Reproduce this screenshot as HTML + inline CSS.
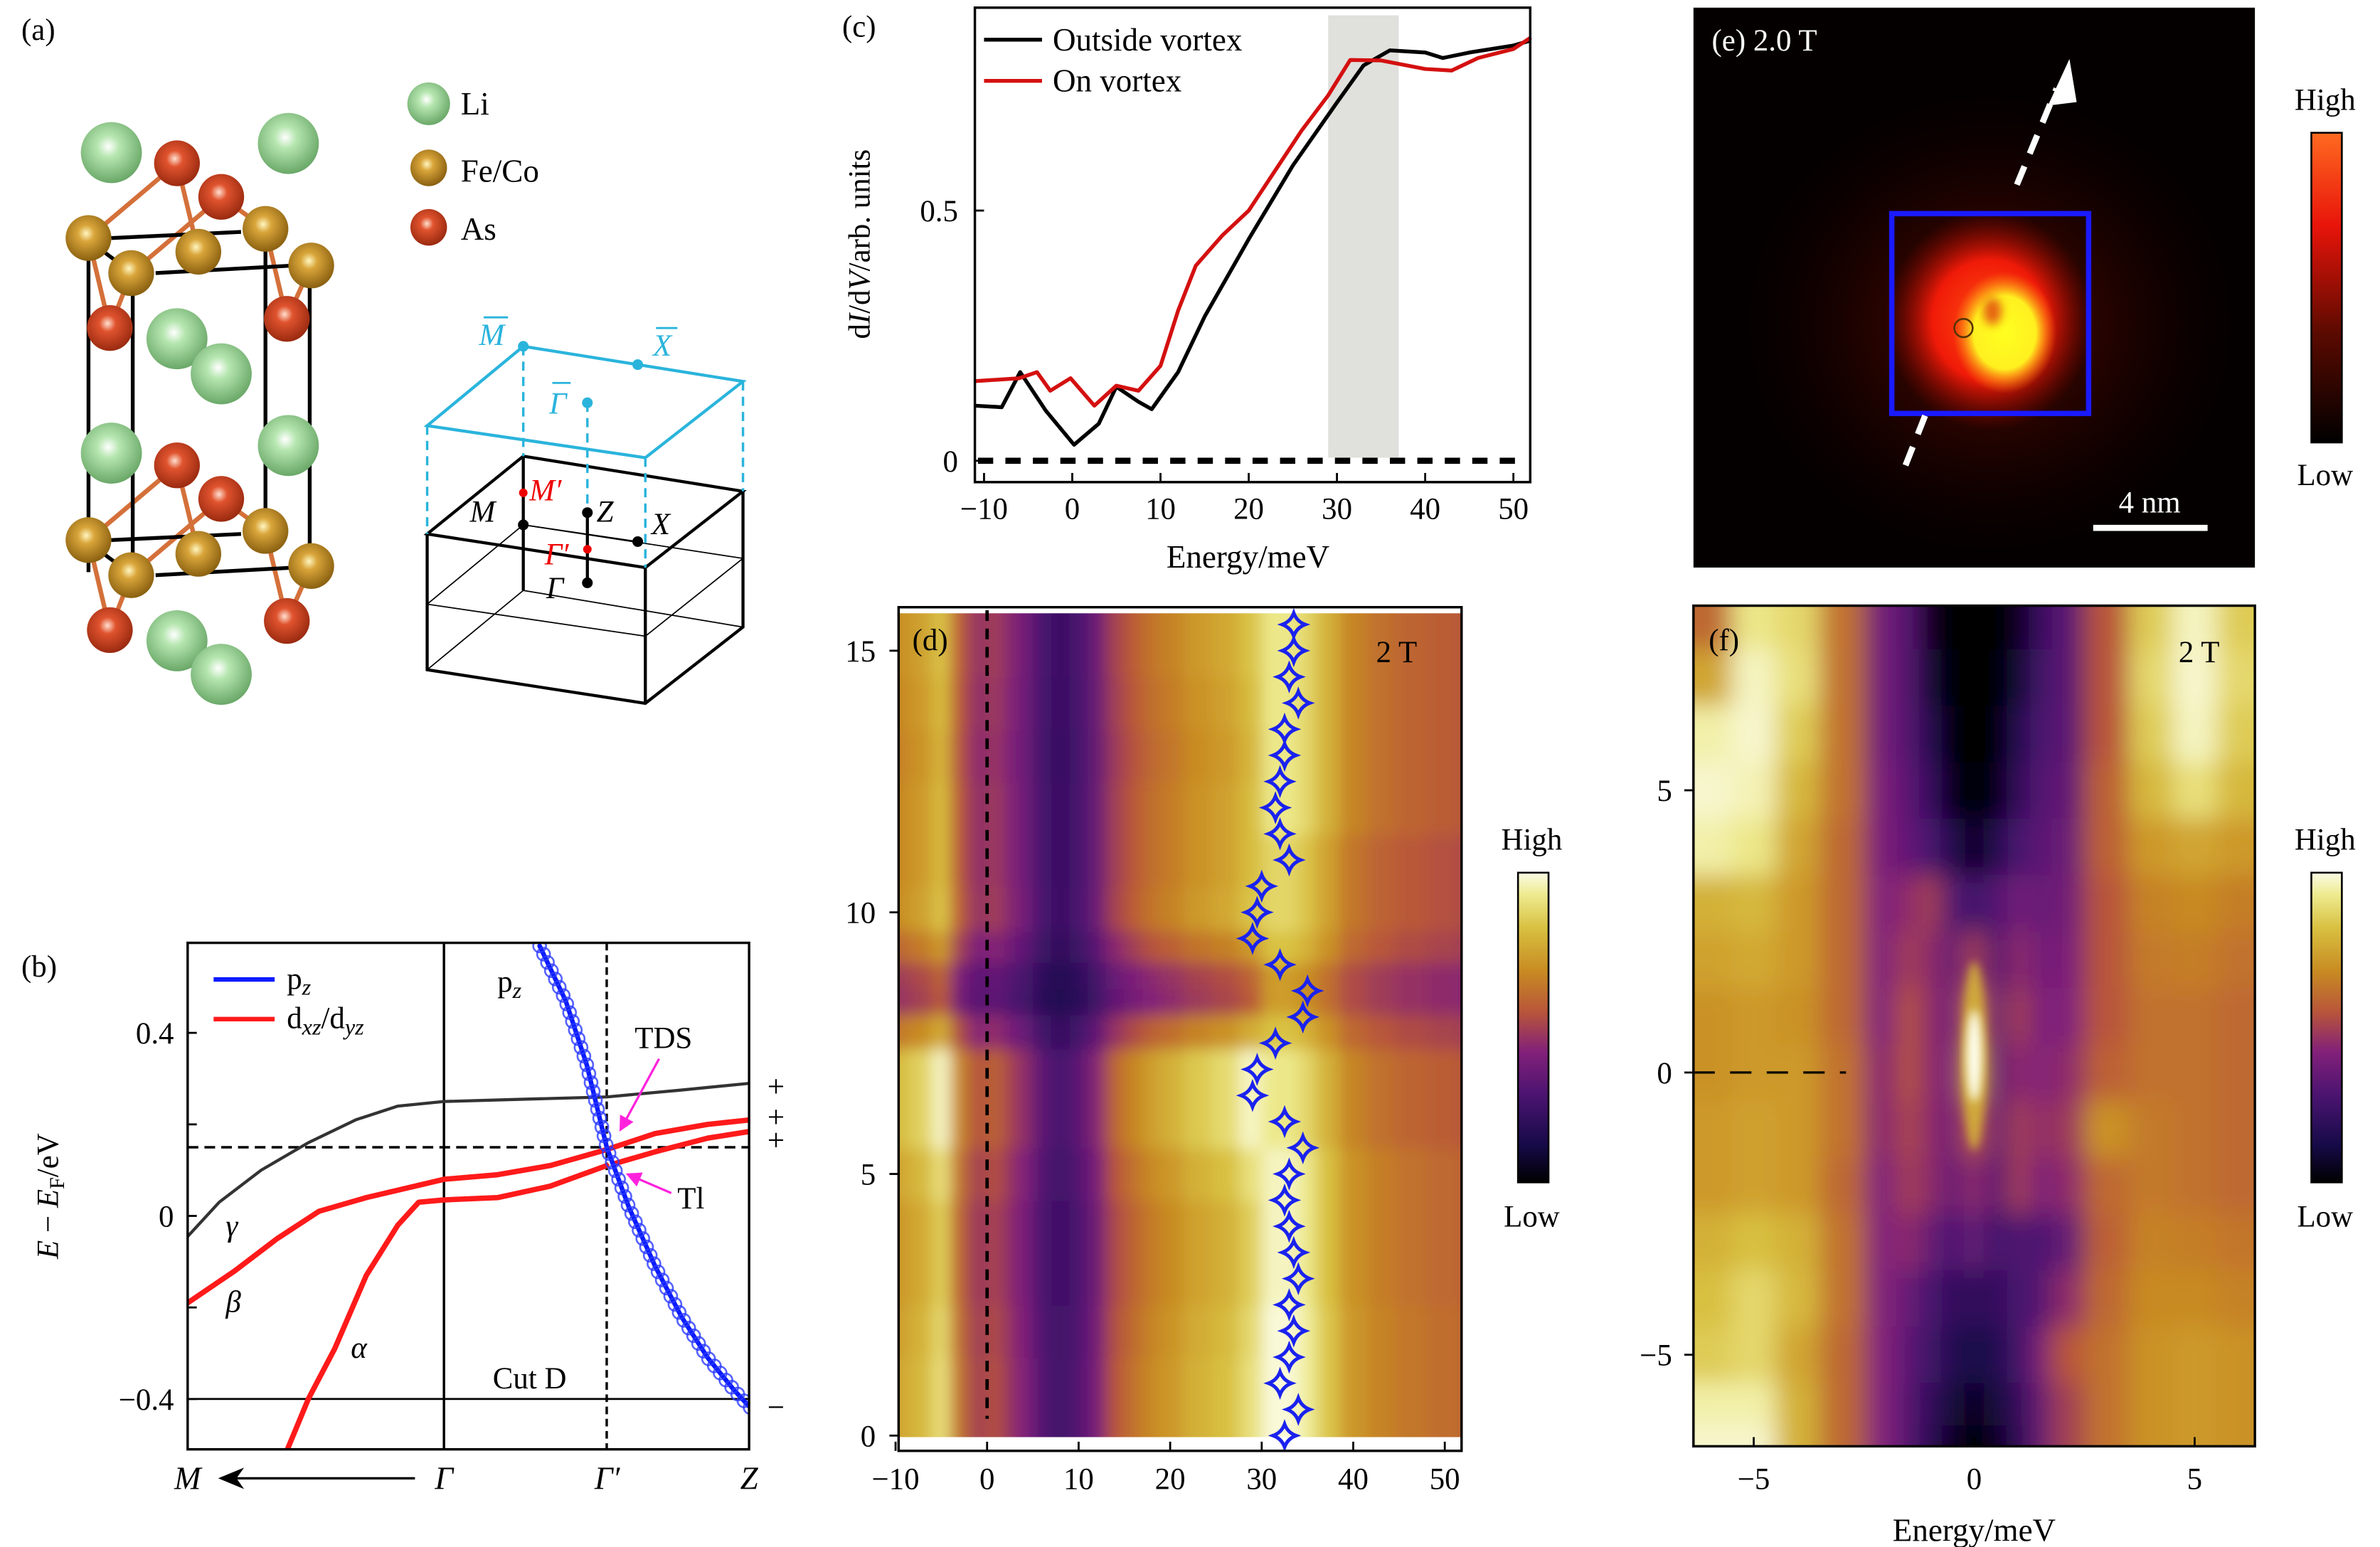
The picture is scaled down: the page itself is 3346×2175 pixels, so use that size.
<!DOCTYPE html>
<html><head><meta charset="utf-8">
<style>
html,body{margin:0;padding:0;background:#fff;}
svg{display:block;font-family:"Liberation Serif",serif;}
</style></head>
<body>
<svg id="fig" xmlns="http://www.w3.org/2000/svg" width="3346" height="2175" viewBox="0 0 1560 1014">
<defs>
  <radialGradient id="gLi" cx="0.45" cy="0.4" r="0.6"><stop offset="0" stop-color="#ffffff"/><stop offset="0.3" stop-color="#b6e6b0"/><stop offset="1" stop-color="#6aa868"/></radialGradient>
  <radialGradient id="gFe" cx="0.45" cy="0.4" r="0.6"><stop offset="0" stop-color="#fff6c0"/><stop offset="0.3" stop-color="#d9a53a"/><stop offset="1" stop-color="#8a6010"/></radialGradient>
  <radialGradient id="gAs" cx="0.45" cy="0.4" r="0.6"><stop offset="0" stop-color="#ffe0d0"/><stop offset="0.3" stop-color="#e0532e"/><stop offset="1" stop-color="#9a2a10"/></radialGradient>
  <linearGradient id="cbHeat" x1="0" y1="1" x2="0" y2="0">
    <stop offset="0" stop-color="#000000"/><stop offset="0.12" stop-color="#160a48"/><stop offset="0.28" stop-color="#4a1470"/><stop offset="0.42" stop-color="#82207a"/><stop offset="0.55" stop-color="#b8553a"/><stop offset="0.68" stop-color="#c88a22"/><stop offset="0.82" stop-color="#d8c040"/><stop offset="0.93" stop-color="#eeeb90"/><stop offset="1" stop-color="#fbfbe6"/>
  </linearGradient>
  <linearGradient id="cbRed" x1="0" y1="1" x2="0" y2="0">
    <stop offset="0" stop-color="#000000"/><stop offset="0.35" stop-color="#5a0a00"/><stop offset="0.7" stop-color="#e8140a"/><stop offset="1" stop-color="#ff6a20"/>
  </linearGradient>
  <radialGradient id="eHaze" cx="0.5" cy="0.5" r="0.5"><stop offset="0" stop-color="#a01005" stop-opacity="1"/><stop offset="0.5" stop-color="#500800" stop-opacity="0.7"/><stop offset="1" stop-color="#200000" stop-opacity="0"/></radialGradient>
  <radialGradient id="eCore" cx="0.5" cy="0.5" r="0.5"><stop offset="0" stop-color="#ff5010"/><stop offset="0.55" stop-color="#f01a08"/><stop offset="1" stop-color="#900800" stop-opacity="0"/></radialGradient>
  <radialGradient id="eYel" cx="0.5" cy="0.5" r="0.5"><stop offset="0" stop-color="#ffff20"/><stop offset="0.6" stop-color="#fff020"/><stop offset="1" stop-color="#ff8a10" stop-opacity="0"/></radialGradient>
  <filter id="blurD" x="-5%" y="-5%" width="110%" height="110%"><feGaussianBlur stdDeviation="5"/></filter>
  <filter id="blurF" x="-5%" y="-5%" width="110%" height="110%"><feGaussianBlur stdDeviation="8"/></filter>
  <filter id="blurS" x="-50%" y="-50%" width="200%" height="200%"><feGaussianBlur stdDeviation="3"/></filter>
  <clipPath id="clipD"><rect x="589" y="402" width="369" height="540"/></clipPath>
  <clipPath id="clipF"><rect x="1110" y="397" width="368" height="551"/></clipPath>
  <clipPath id="clipB"><rect x="123" y="618" width="368" height="332"/></clipPath>
  <clipPath id="clipE"><rect x="1110" y="5" width="368" height="367"/></clipPath>
  <marker id="arrM" markerWidth="10" markerHeight="10" refX="8" refY="5" orient="auto" markerUnits="userSpaceOnUse"><path d="M0,0 L10,5 L0,10 z" fill="#ff22dd"/></marker>
</defs>

<!-- ========== Panel (a) ========== -->
<g id="panelA">
  <text x="14" y="26" font-size="20">(a)</text>
  <g id="crystal"></g>
  <g>
    <circle cx="281" cy="68" r="14" fill="url(#gLi)"/>
    <text x="302" y="75" font-size="21">Li</text>
    <circle cx="281" cy="110" r="12" fill="url(#gFe)"/>
    <text x="302" y="119" font-size="21">Fe/Co</text>
    <circle cx="281" cy="149" r="12" fill="url(#gAs)"/>
    <text x="302" y="157" font-size="21">As</text>
  </g>
  <g id="bz">
    <g fill="none" stroke="#000">
      <path d="M280,350 L343,299 L487,322 L423,372 Z" stroke-width="2"/>
      <path d="M280,350 L280,439 L423,461 L487,411 L487,322" stroke-width="2"/>
      <path d="M423,372 L423,461" stroke-width="2"/>
      <path d="M343,299 L343,387" stroke-width="2"/>
      <path d="M280,439 L343,387 L487,411" stroke-width="0.8"/>
      <path d="M280,396 L343,344 L487,366 M280,396 L423,417 L487,366" stroke-width="0.8"/>
      <path d="M343,344 L418,355" stroke-width="0.8"/>
      <path d="M385,336 L385,382" stroke-width="2"/>
    </g>
    <path d="M280,279 L343,227 L487,250 L423,300 Z" fill="none" stroke="#2ab4dc" stroke-width="2"/>
    <path d="M280,279 L280,350 M343,227 L343,299 M487,250 L487,322 M423,300 L423,372 M385,264 L385,336" fill="none" stroke="#2ab4dc" stroke-width="1.6" stroke-dasharray="6,4"/>
    <circle cx="343" cy="227" r="3.5" fill="#2ab4dc"/><circle cx="418" cy="239" r="3.5" fill="#2ab4dc"/><circle cx="385" cy="264" r="3.5" fill="#2ab4dc"/>
    <circle cx="343" cy="323" r="2.8" fill="#e00"/><circle cx="385" cy="360" r="2.8" fill="#e00"/>
    <circle cx="343" cy="344" r="3.5" fill="#000"/><circle cx="385" cy="336" r="3.5" fill="#000"/><circle cx="385" cy="382" r="3.5" fill="#000"/><circle cx="418" cy="355" r="3.5" fill="#000"/>
    <g font-size="20" font-style="italic">
      <text x="314" y="226" fill="#2ab4dc">M</text><line x1="317" y1="208" x2="333" y2="208" stroke="#2ab4dc" stroke-width="1.3"/>
      <text x="428" y="233" fill="#2ab4dc">X</text><line x1="430" y1="215" x2="444" y2="215" stroke="#2ab4dc" stroke-width="1.3"/>
      <text x="360" y="271" fill="#2ab4dc">Γ</text><line x1="362" y1="251" x2="374" y2="251" stroke="#2ab4dc" stroke-width="1.3"/>
      <text x="347" y="328" fill="#e00">M′</text>
      <text x="308" y="342">M</text>
      <text x="391" y="342">Z</text>
      <text x="357" y="370" fill="#e00">Γ′</text>
      <text x="358" y="392">Γ</text>
      <text x="427" y="350">X</text>
    </g>
  </g>
</g>

<!-- ========== Panel (b) ========== -->
<g id="panelB">
  <text x="14" y="640" font-size="20">(b)</text>
  <g id="bPlot" clip-path="url(#clipB)"></g>
  <g id="bAxes"></g>
  <rect x="123" y="618" width="368" height="332" fill="none" stroke="#000" stroke-width="1.6"/>
  <g>
    <line x1="140" y1="642" x2="180" y2="642" stroke="#0a1aff" stroke-width="3"/>
    <text x="188" y="648" font-size="20">p<tspan font-style="italic" font-size="15" dy="4">z</tspan></text>
    <line x1="140" y1="668" x2="180" y2="668" stroke="#ff1a1a" stroke-width="3"/>
    <text x="188" y="674" font-size="20">d<tspan font-style="italic" font-size="15" dy="4">xz</tspan><tspan dy="-4">/d</tspan><tspan font-style="italic" font-size="15" dy="4">yz</tspan></text>
  </g>
  <text x="326" y="650" font-size="20">p<tspan font-style="italic" font-size="15" dy="4">z</tspan></text>
  <text x="416" y="687" font-size="20">TDS</text>
  <line x1="432" y1="694" x2="407" y2="740" stroke="#ff22dd" stroke-width="1.5" marker-end="url(#arrM)"/>
  <text x="444" y="792" font-size="20">Tl</text>
  <line x1="440" y1="782" x2="412" y2="770" stroke="#ff22dd" stroke-width="1.5" marker-end="url(#arrM)"/>
  <text x="323" y="910" font-size="20">Cut D</text>
  <g font-size="20" font-style="italic">
    <text x="148" y="810">γ</text>
    <text x="148" y="860">β</text>
    <text x="230" y="890">α</text>
  </g>
  <g font-size="20">
    <text x="503" y="719">+</text><text x="503" y="739">+</text><text x="503" y="754">+</text><text x="503" y="929">−</text>
  </g>
  <g font-size="21" font-style="italic" text-anchor="middle">
    <text x="123" y="976">M</text><text x="291" y="976">Γ</text><text x="398" y="976">Γ′</text><text x="491" y="976">Z</text>
  </g>
  <line x1="272" y1="969" x2="150" y2="969" stroke="#000" stroke-width="1.6"/>
  <path d="M143,969 L160,962 L155,969 L160,976 Z" fill="#000"/>
  <text transform="translate(38,784) rotate(-90)" font-size="20" text-anchor="middle"><tspan font-style="italic">E</tspan> − <tspan font-style="italic">E</tspan><tspan font-size="14" dy="4">F</tspan><tspan dy="-4">/eV</tspan></text>
</g>

<!-- ========== Panel (c) ========== -->
<g id="panelC">
  <text x="552" y="24" font-size="20">(c)</text>
  <g id="cPlot"></g>
  <rect x="639" y="5" width="364" height="311" fill="none" stroke="#000" stroke-width="1.6"/>
  <g>
    <line x1="645" y1="26" x2="683" y2="26" stroke="#000" stroke-width="2.5"/>
    <text x="690" y="33" font-size="21">Outside vortex</text>
    <line x1="645" y1="53" x2="683" y2="53" stroke="#d41010" stroke-width="2.5"/>
    <text x="690" y="60" font-size="21">On vortex</text>
  </g>
  <text x="818" y="372" font-size="21" text-anchor="middle">Energy/meV</text>
  <text transform="translate(570,160) rotate(-90)" font-size="20" text-anchor="middle">d<tspan font-style="italic">I</tspan>/d<tspan font-style="italic">V</tspan>/arb. units</text>
</g>

<!-- ========== Panel (d) ========== -->
<g id="panelD">
  <g clip-path="url(#clipD)"><g id="dMap" filter="url(#blurD)"></g></g>
  <g id="dOver"></g>
  <rect x="589" y="398" width="369" height="553" fill="none" stroke="#000" stroke-width="1.6"/>
  <text x="598" y="426" font-size="20">(d)</text>
  <text x="902" y="434" font-size="20">2 T</text>
  <rect x="995" y="572" width="20" height="203" fill="url(#cbHeat)" stroke="#000" stroke-width="1.2"/>
  <text x="1004" y="557" font-size="20" text-anchor="middle">High</text>
  <text x="1004" y="804" font-size="20" text-anchor="middle">Low</text>
</g>

<!-- ========== Panel (e) ========== -->
<g id="panelE">
  <rect x="1110" y="5" width="368" height="367" fill="#050000"/>
  <g clip-path="url(#clipE)">
    <ellipse cx="1304" cy="212" rx="160" ry="150" fill="url(#eHaze)" opacity="0.55"/>
    <ellipse cx="1304" cy="210" rx="68" ry="72" fill="url(#eCore)"/>
    <ellipse cx="1314" cy="218" rx="34" ry="40" fill="url(#eYel)"/>
    <ellipse cx="1306" cy="204" rx="6" ry="9" fill="#e04010" opacity="0.8" filter="url(#blurS)"/>
  </g>
  <circle cx="1287" cy="215" r="6" fill="none" stroke="#553300" stroke-width="1.2"/>
  <rect x="1240" y="140" width="129" height="131" fill="none" stroke="#1a1aff" stroke-width="3.5"/>
  <line x1="1249" y1="305" x2="1262" y2="272" stroke="#fff" stroke-width="4" stroke-dasharray="13,9"/>
  <line x1="1322" y1="121" x2="1348" y2="58" stroke="#fff" stroke-width="4" stroke-dasharray="13,9"/>
  <path d="M1356,42 L1344,68 L1360,66 Z" fill="#fff" stroke="#fff" stroke-width="2"/>
  <text x="1122" y="33" font-size="20" fill="#fff">(e)  2.0 T</text>
  <line x1="1372" y1="346" x2="1447" y2="346" stroke="#fff" stroke-width="4"/>
  <text x="1409" y="336" font-size="20" fill="#fff" text-anchor="middle">4 nm</text>
  <rect x="1515" y="87" width="20" height="203" fill="url(#cbRed)" stroke="#000" stroke-width="1.2"/>
  <text x="1524" y="72" font-size="20" text-anchor="middle">High</text>
  <text x="1524" y="318" font-size="20" text-anchor="middle">Low</text>
</g>

<!-- ========== Panel (f) ========== -->
<g id="panelF">
  <g clip-path="url(#clipF)"><g id="fMap" filter="url(#blurF)"></g><g id="fPeak"></g></g>
  <g id="fOver"></g>
  <rect x="1110" y="397" width="368" height="551" fill="none" stroke="#000" stroke-width="1.6"/>
  <text x="1120" y="426" font-size="20">(f)</text>
  <text x="1428" y="434" font-size="20">2 T</text>
  <rect x="1515" y="572" width="20" height="203" fill="url(#cbHeat)" stroke="#000" stroke-width="1.2"/>
  <text x="1524" y="557" font-size="20" text-anchor="middle">High</text>
  <text x="1524" y="804" font-size="20" text-anchor="middle">Low</text>
  <text x="1294" y="1010" font-size="21" text-anchor="middle">Energy/meV</text>
</g>
</svg>

<script>
const NS = "http://www.w3.org/2000/svg";
function mk(parent, tag, attrs) {
  const el = document.createElementNS(NS, tag);
  for (const k in attrs) el.setAttribute(k, attrs[k]);
  parent.appendChild(el);
  return el;
}
function fmt(v){ return v < 0 ? "\u2212" + Math.abs(v) : String(v); }

/* ---------- Panel (a) crystal ---------- */
const liAtoms = [[73,100],[189,94],[116,222],[145,245],[73,297],[189,292],[116,420],[145,442]];
const feAtoms = [[58,156],[86,179],[130,165],[174,150],[204,174],[58,354],[86,377],[130,363],[174,348],[204,371]];
const asAtoms = [[116,107],[145,129],[72,215],[188,209],[116,305],[145,327],[72,413],[188,407]];
(function(){
  const g = document.getElementById('crystal');
  const bonds = [[0,0],[0,2],[1,1],[1,3],[2,0],[2,1],[3,3],[3,4],[4,5],[4,7],[5,6],[5,8],[6,5],[6,6],[7,8],[7,9]];
  bonds.forEach(b => {
    const a = asAtoms[b[0]], f = feAtoms[b[1]];
    const ln = mk(g, 'line', {x1:a[0], y1:a[1], x2:f[0], y2:f[1], stroke:'#d4703a', 'stroke-width':3});
    
    
  });
  const box = ["M58,156 L58,375","M87,179 L87,377","M174,150 L174,350","M203,174 L203,372",
    "M73,156 L158,152","M102,179 L193,174","M73,354 L158,350","M102,377 L193,372","M64,162 L76,171","M64,360 L76,369"];
  box.forEach(d => {
    const p = mk(g, 'path', {d:d, stroke:'#000', 'stroke-width':2.5, fill:'none'});
    
    
  });
  liAtoms.forEach(a => { const c = mk(g,'circle',{cx:a[0],cy:a[1],r:20,fill:'url(#gLi)'});
      });
  asAtoms.forEach(a => { const c = mk(g,'circle',{cx:a[0],cy:a[1],r:15,fill:'url(#gAs)'});
      });
  feAtoms.forEach(a => { const c = mk(g,'circle',{cx:a[0],cy:a[1],r:15,fill:'url(#gFe)'});
      });
})();

/* ---------- Panel (b) bands ---------- */
const bandGammaK = [0,0.123,0.287,0.471,0.656,0.820,1,1.311,1.635,1.926,2.197];
const bandGammaE = [-0.045,0.03,0.10,0.16,0.21,0.24,0.25,0.255,0.26,0.275,0.29];
const bandBetaK = [0,0.184,0.348,0.512,0.697,1,1.209,1.414,1.635,1.824,2.029,2.197];
const bandBetaE = [-0.19,-0.12,-0.05,0.01,0.04,0.08,0.09,0.11,0.145,0.18,0.20,0.21];
const bandAlphaK = [0.389,0.471,0.574,0.697,0.820,0.902,1,1.209,1.414,1.635];
const bandAlphaE = [-0.51,-0.40,-0.29,-0.13,-0.02,0.03,0.035,0.04,0.065,0.11];
const bandAlpha2K = [1.670,1.824,2.029,2.197];
const bandAlpha2E = [0.115,0.14,0.17,0.185];
const bandPzK = [1.373,1.475,1.557,1.635,1.721,1.824,1.926,2.029,2.131,2.197];
const bandPzE = [0.59,0.47,0.33,0.15,0.02,-0.11,-0.22,-0.31,-0.38,-0.42];
const bTickVals = [0.4,0.2,0,-0.2,-0.4];
const bTickLabels = ["0.4","","0","","\u22120.4"];
const bRefE = [0.15,-0.4];
const bKpoints = [1,1.635];
const bx = k => 123 + k*168;
const by = e => 797 - 300*e;
(function(){
  const g = document.getElementById('bPlot');
  const ax = document.getElementById('bAxes');
  const h1 = mk(g,'line',{x1:123,x2:491,y1:by(bRefE[0]),y2:by(bRefE[0]),stroke:'#000','stroke-width':1.6,'stroke-dasharray':'7,4'});
   
  const h2 = mk(g,'line',{x1:123,x2:491,y1:by(bRefE[1]),y2:by(bRefE[1]),stroke:'#000','stroke-width':1.3});
   
  const v1 = mk(g,'line',{x1:bx(bKpoints[0]),x2:bx(bKpoints[0]),y1:618,y2:950,stroke:'#000','stroke-width':1.6});
   
  const v2 = mk(g,'line',{x1:bx(bKpoints[1]),x2:bx(bKpoints[1]),y1:618,y2:950,stroke:'#000','stroke-width':1.6,'stroke-dasharray':'5,3'});
   
  function band(K,E,color,w,name){
    const pts = K.map((k,i)=>bx(k).toFixed(1)+','+by(E[i]).toFixed(1)).join(' ');
    const p = mk(g,'polyline',{points:pts,fill:'none',stroke:color,'stroke-width':w,'stroke-linejoin':'round','stroke-linecap':'round'});
    
    
    return p;
  }
  band(bandGammaK,bandGammaE,'#333',2,'gamma-band');
  band(bandBetaK,bandBetaE,'#ff1a1a',3.5,'beta-band');
  band(bandAlphaK,bandAlphaE,'#ff1a1a',3.5,'alpha-band');
  band(bandAlpha2K,bandAlpha2E,'#ff1a1a',3.5,'alpha-band-right');
  const pz = band(bandPzK,bandPzE,'#0a1aff',3,'pz-band');
  const L = pz.getTotalLength();
  for (let s=0; s<=L; s+=6) {
    const pt = pz.getPointAtLength(s);
    const c = mk(g,'circle',{cx:pt.x,cy:pt.y,r:4.2,fill:'none',stroke:'#2a3aff','stroke-width':1.2,opacity:0.8});
    
    
  }
  bTickVals.forEach((v,i)=>{
    const t = mk(ax,'line',{x1:123,x2:129,y1:by(v),y2:by(v),stroke:'#000','stroke-width':1.3});
     
    if (bTickLabels[i]) {
      const tx = mk(ax,'text',{x:114,y:by(v)+7,'font-size':20,'text-anchor':'end'});
      tx.textContent = bTickLabels[i];
       
    }
  });
})();

/* ---------- Panel (c) spectra ---------- */
const specE_out = [-11,-8,-5.9,-3,0.2,3,5,7.5,9,12,15,20,25,30,33,36,40,42,45,50,52];
const specOut   = [0.11,0.107,0.177,0.1,0.032,0.074,0.148,0.118,0.103,0.177,0.288,0.443,0.59,0.716,0.79,0.82,0.816,0.805,0.816,0.83,0.84];
const specE_on  = [-11,-6,-4,-2.5,-0.2,2.5,5,7.5,10,12,14,17,20,23,26,29,31.5,35,40,43,46,50,52];
const specOn    = [0.159,0.165,0.177,0.14,0.165,0.11,0.15,0.14,0.19,0.30,0.39,0.45,0.50,0.58,0.66,0.73,0.801,0.80,0.783,0.78,0.805,0.823,0.846];
const cXTicks = [-10,0,10,20,30,40,50];
const cYTicks = [0,0.5];
const cShade = [29,37];
const cx_ = e => 645 + (e+10)*5.783;
const cy_ = v => 302 - 328*v;
(function(){
  const g = document.getElementById('cPlot');
  const sh = mk(g,'rect',{x:cx_(cShade[0]),y:10,width:cx_(cShade[1])-cx_(cShade[0]),height:290,fill:'#e0e0dc'});
   
  const z = mk(g,'line',{x1:641,x2:1001,y1:cy_(0),y2:cy_(0),stroke:'#000','stroke-width':4,'stroke-dasharray':'10,8'});
   
  function line(E,V,color,name){
    const pts = E.map((e,i)=>cx_(Math.max(e,-11)).toFixed(1)+','+cy_(V[i]).toFixed(1)).join(' ');
    const p = mk(g,'polyline',{points:pts,fill:'none',stroke:color,'stroke-width':2.5,'stroke-linejoin':'round'});
     
  }
  line(specE_out,specOut,'#000','outside-vortex-line');
  line(specE_on,specOn,'#d41010','on-vortex-line');
  cXTicks.forEach(v=>{
    const t = mk(g,'line',{x1:cx_(v),x2:cx_(v),y1:316,y2:310,stroke:'#000','stroke-width':1.3});
     
    const tx = mk(g,'text',{x:cx_(v),y:340,'font-size':20,'text-anchor':'middle'});
    tx.textContent = fmt(v);
     
  });
  cYTicks.forEach(v=>{
    const t = mk(g,'line',{x1:639,x2:645,y1:cy_(v),y2:cy_(v),stroke:'#000','stroke-width':1.3});
     
    const tx = mk(g,'text',{x:628,y:cy_(v)+7,'font-size':20,'text-anchor':'end'});
    tx.textContent = String(v);
     
  });
})();

/* ---------- colormap ---------- */
const cmapStops = [[0,[0,0,0]],[0.12,[22,10,72]],[0.28,[74,20,112]],[0.42,[130,32,122]],[0.55,[184,85,58]],[0.68,[200,138,34]],[0.82,[216,192,64]],[0.93,[238,235,144]],[1,[251,251,230]]];
function cmap(t){
  t = Math.max(0,Math.min(1,t));
  for (let i=1;i<cmapStops.length;i++){
    if (t<=cmapStops[i][0]){
      const a=cmapStops[i-1], b=cmapStops[i], f=(t-a[0])/(b[0]-a[0]);
      const c=a[1].map((v,j)=>Math.round(v+(b[1][j]-v)*f));
      return 'rgb('+c.join(',')+')';
    }
  }
  return 'rgb(251,251,230)';
}
function edges(arr, pad){
  const e=[arr[0]-pad];
  for(let i=0;i<arr.length-1;i++) e.push((arr[i]+arr[i+1])/2);
  e.push(arr[arr.length-1]+pad);
  return e;
}

/* ---------- Panel (d) heatmap ---------- */
const dEnergy = [-12,-10,-7,-5,-3,-1,0,1,2,4,6,8,10,12,14,16,18,20,23,26,29,31,33,35,37,40,43,46,50,53];
const dColInt = [0.72,0.75,0.8,0.9,0.62,0.5,0.52,0.55,0.48,0.42,0.3,0.25,0.3,0.4,0.55,0.62,0.68,0.72,0.78,0.82,0.9,0.97,0.97,0.92,0.82,0.7,0.65,0.62,0.6,0.58];
const dRowY = [0,1,2,3,4,5,6,7,7.8,8.3,8.8,9.3,10,11,12,13,14,15,15.6];
const dRowModLow  = [1,1,0.98,0.95,0.95,1,1.08,1.08,0.85,0.62,0.65,0.8,0.92,0.9,0.9,0.88,0.9,0.92,0.92];
const dRowModHigh = [1.02,1.02,1.02,1,1,1,0.95,0.95,0.85,0.75,0.75,0.85,0.9,0.9,0.95,0.95,0.95,0.95,0.95];
const dPeakY = [0,0.5,1,1.5,2,2.5,3,3.5,4,4.5,5,5.5,6,6.5,7,7.5,8,8.5,9,9.5,10,10.5,11,11.5,12,12.5,13,13.5,14,14.5,15,15.5];
const dPeakE = [32.5,34,32,33,33.5,33,34,33.5,33,32.5,33,34.5,32.5,29,29.5,31.5,34.5,35,32,29,29.5,30,33,32,31.5,32,32.5,32.5,34,33,33.5,33.5];
const dXTicks = [-10,0,10,20,30,40,50];
const dYTicks = [0,5,10,15];
const dx_ = e => 647 + 6.0*e;
const dy_ = y => 941 - 34.3*y;
(function(){
  const g = document.getElementById('dMap');
  const ex = edges(dEnergy,2), ey = edges(dRowY,1.5);
  for (let j=0;j<dRowY.length;j++){
    for (let i=0;i<dEnergy.length;i++){
      const mod = dEnergy[i] < 30 ? dRowModLow[j] : dRowModHigh[j];
      const x0=dx_(ex[i]), x1=dx_(ex[i+1]), y0=dy_(ey[j+1]), y1=dy_(ey[j]);
      const r = mk(g,'rect',{x:x0.toFixed(1),y:y0.toFixed(1),width:(x1-x0+0.6).toFixed(1),height:(y1-y0+0.6).toFixed(1),fill:cmap(dColInt[i]*mod)});
      
      
    }
  }
  const o = document.getElementById('dOver');
  const vl = mk(o,'line',{x1:dx_(0),x2:dx_(0),y1:400,y2:930,stroke:'#000','stroke-width':2.2,'stroke-dasharray':'7,5'});
   
  dPeakY.forEach((y,i)=>{
    const cx=dx_(dPeakE[i]), cy=dy_(y), s=7.5, q=2;
    const d=`M${cx},${cy-s} Q${cx+q},${cy-q} ${cx+s},${cy} Q${cx+q},${cy+q} ${cx},${cy+s} Q${cx-q},${cy+q} ${cx-s},${cy} Q${cx-q},${cy-q} ${cx},${cy-s} Z`;
    const p = mk(o,'path',{d:d,fill:'none',stroke:'#1a22ee','stroke-width':2.3});
    
    
  });
  dXTicks.forEach(v=>{
    const t = mk(o,'line',{x1:dx_(v),x2:dx_(v),y1:951,y2:945,stroke:'#000','stroke-width':1.3});
     
    const tx = mk(o,'text',{x:dx_(v),y:976,'font-size':20,'text-anchor':'middle'});
    tx.textContent = fmt(v);
     
  });
  dYTicks.forEach(v=>{
    const t = mk(o,'line',{x1:589,x2:583,y1:dy_(v),y2:dy_(v),stroke:'#000','stroke-width':1.3});
     
    const tx = mk(o,'text',{x:574,y:dy_(v)+7,'font-size':20,'text-anchor':'end'});
    tx.textContent = String(v);
     
  });
})();

/* ---------- Panel (f) heatmap ---------- */
const fEnergy = [-6,-5,-4,-3,-2,-1.5,-1,-0.5,0,0.5,1,1.5,2,3,4,5,6];
const fRowY = [8,7,6,5,4,3,2,1,0,-1,-2,-3,-4,-5,-6,-6.5];
const fGrid = [
  [0.6,0.92,0.88,0.62,0.38,0.3,0.05,0.0,0.0,0.0,0.05,0.22,0.32,0.55,0.85,0.97,0.85],
  [0.75,0.97,0.9,0.62,0.38,0.3,0.08,0.0,0.0,0.0,0.08,0.25,0.32,0.55,0.88,0.98,0.88],
  [0.95,0.98,0.85,0.62,0.38,0.3,0.15,0.0,0.0,0.0,0.15,0.28,0.32,0.55,0.85,0.97,0.85],
  [0.98,0.96,0.8,0.62,0.4,0.32,0.22,0.03,0.0,0.03,0.2,0.3,0.34,0.58,0.8,0.9,0.8],
  [0.95,0.92,0.75,0.6,0.4,0.34,0.28,0.15,0.05,0.15,0.28,0.32,0.36,0.58,0.72,0.75,0.72],
  [0.78,0.8,0.72,0.6,0.42,0.45,0.5,0.3,0.25,0.3,0.38,0.35,0.38,0.55,0.66,0.68,0.65],
  [0.74,0.76,0.72,0.6,0.42,0.5,0.45,0.35,0.5,0.3,0.45,0.38,0.4,0.55,0.64,0.65,0.62],
  [0.7,0.72,0.7,0.6,0.42,0.55,0.45,0.38,0.6,0.35,0.5,0.4,0.42,0.55,0.62,0.62,0.6],
  [0.7,0.72,0.72,0.62,0.44,0.55,0.45,0.4,0.7,0.35,0.45,0.42,0.45,0.58,0.62,0.62,0.6],
  [0.72,0.74,0.72,0.62,0.44,0.52,0.45,0.38,0.55,0.35,0.5,0.45,0.48,0.7,0.64,0.62,0.6],
  [0.72,0.74,0.72,0.6,0.42,0.5,0.45,0.35,0.45,0.32,0.5,0.4,0.45,0.6,0.64,0.62,0.6],
  [0.78,0.82,0.78,0.62,0.42,0.45,0.35,0.28,0.35,0.25,0.3,0.28,0.35,0.58,0.66,0.65,0.63],
  [0.82,0.88,0.8,0.62,0.42,0.35,0.28,0.2,0.2,0.2,0.28,0.3,0.45,0.6,0.68,0.68,0.66],
  [0.85,0.88,0.75,0.6,0.42,0.32,0.25,0.15,0.12,0.15,0.25,0.4,0.55,0.62,0.7,0.72,0.7],
  [0.95,0.95,0.78,0.6,0.42,0.3,0.2,0.1,0.05,0.1,0.2,0.35,0.5,0.62,0.7,0.72,0.7],
  [0.98,0.98,0.78,0.6,0.42,0.3,0.18,0.05,0.0,0.05,0.18,0.35,0.5,0.62,0.7,0.72,0.7]
];
const fZbcpE = [0];
const fZbcpY = [0.3];
const fXTicks = [-5,0,5];
const fYTicks = [5,0,-5];
const fx_ = e => 1294 + 28.9*e;
const fy_ = y => 703 - 37*y;
(function(){
  const g = document.getElementById('fMap');
  const ex = edges(fEnergy,1.2);
  const eyS = [fRowY[0]+1.5];
  for (let j=0;j<fRowY.length-1;j++) eyS.push((fRowY[j]+fRowY[j+1])/2);
  eyS.push(fRowY[fRowY.length-1]-1.5);
  for (let j=0;j<fRowY.length;j++){
    for (let i=0;i<fEnergy.length;i++){
      const x0=fx_(ex[i]), x1=fx_(ex[i+1]), y0=fy_(eyS[j]), y1=fy_(eyS[j+1]);
      const r = mk(g,'rect',{x:x0.toFixed(1),y:y0.toFixed(1),width:(x1-x0+0.6).toFixed(1),height:(y1-y0+0.6).toFixed(1),fill:cmap(fGrid[j][i])});
      
      
    }
  }
  const pk = document.getElementById('fPeak');
  fZbcpE.forEach((e,i)=>{
    const el1 = mk(pk,'ellipse',{cx:fx_(e),cy:fy_(fZbcpY[i]),rx:8,ry:62,fill:'#d8b838',opacity:0.85,filter:'url(#blurS)'});
     
    const el2 = mk(pk,'ellipse',{cx:fx_(e),cy:fy_(fZbcpY[i]),rx:5,ry:30,fill:'#fffff0',filter:'url(#blurS)'});
     
  });
  const o = document.getElementById('fOver');
  const hl = mk(o,'line',{x1:1110,x2:1210,y1:fy_(0),y2:fy_(0),stroke:'#000','stroke-width':1.5,'stroke-dasharray':'14,10'});
   
  fXTicks.forEach(v=>{
    const t = mk(o,'line',{x1:fx_(v),x2:fx_(v),y1:948,y2:942,stroke:'#000','stroke-width':1.3});
     
    const tx = mk(o,'text',{x:fx_(v),y:976,'font-size':20,'text-anchor':'middle'});
    tx.textContent = fmt(v);
     
  });
  fYTicks.forEach(v=>{
    const t = mk(o,'line',{x1:1110,x2:1104,y1:fy_(v),y2:fy_(v),stroke:'#000','stroke-width':1.3});
     
    const tx = mk(o,'text',{x:1096,y:fy_(v)+7,'font-size':20,'text-anchor':'end'});
    tx.textContent = fmt(v);
     
  });
})();
</script>
</body></html>
